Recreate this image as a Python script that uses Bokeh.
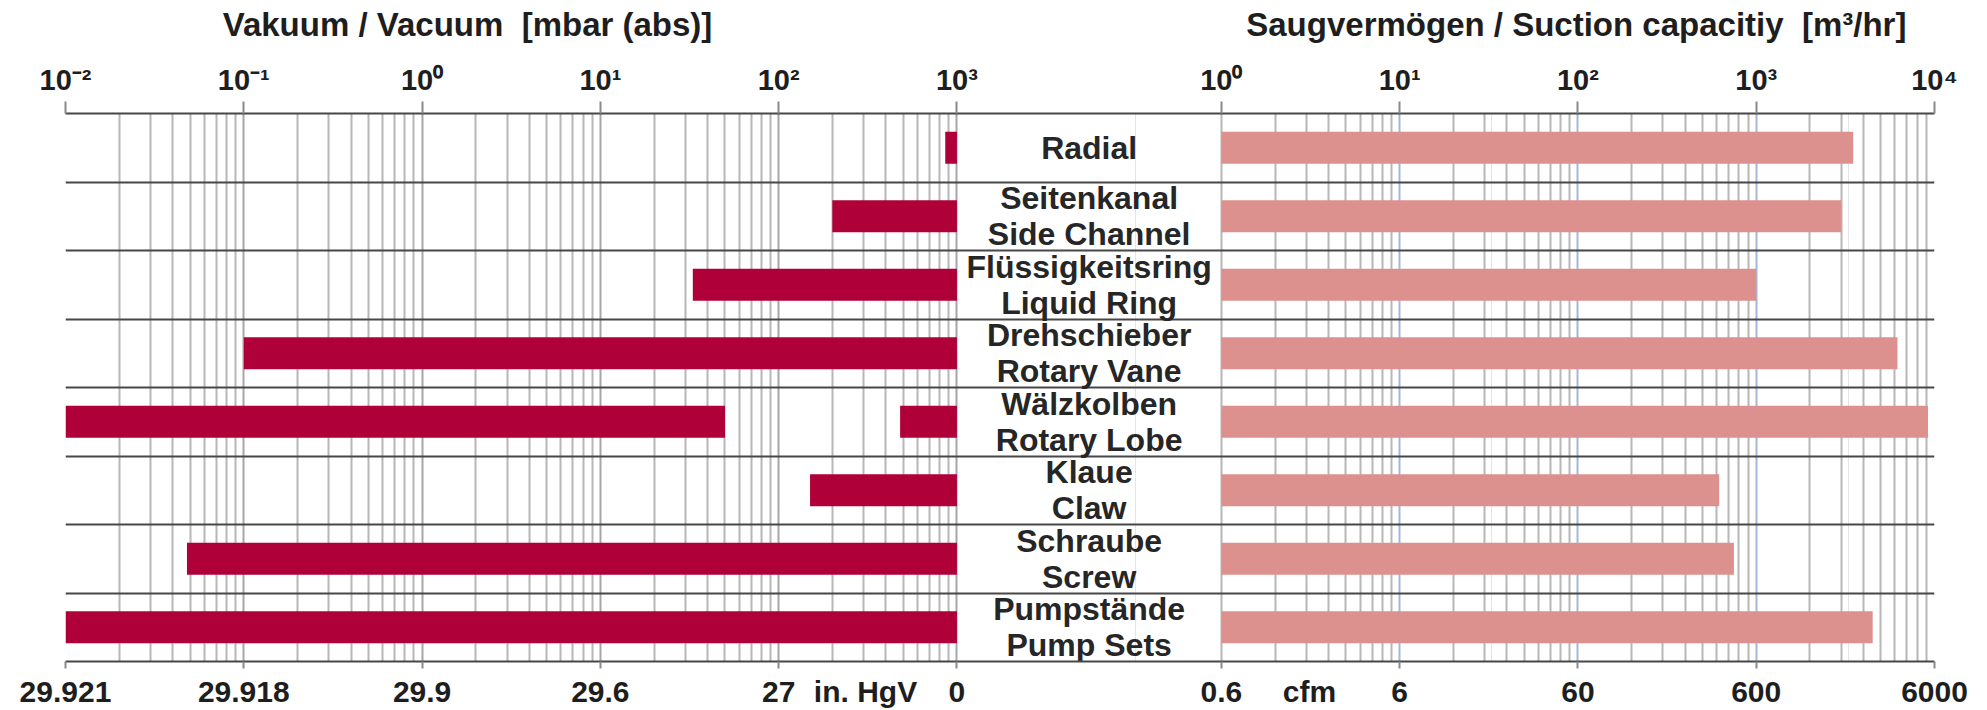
import numpy as np
from bokeh.plotting import figure
from bokeh.models import (Range1d, LogScale, LinearAxis, FixedTicker, CustomJSTickFormatter,
                          Grid, ColumnDataSource)
from bokeh.embed import file_html
from bokeh.resources import INLINE
from bokeh.core.properties import value

# ---------------- data ----------------
pumps_de = ["Radial", "Seitenkanal", "Flüssigkeitsring", "Drehschieber",
            "Wälzkolben", "Klaue", "Schraube", "Pumpstände"]
pumps_en = ["", "Side Channel", "Liquid Ring", "Rotary Vane",
            "Rotary Lobe", "Claw", "Screw", "Pump Sets"]

# vacuum ranges [mbar abs] (one row may have several segments)
vac_pump = [0, 1, 2, 3, 4, 4, 5, 6, 7]
vac_low_mbar = [860, 200, 33, 0.1, 0.01, 480, 150, 0.048, 0.01]
vac_high_mbar = [1000, 1000, 1000, 1000, 50, 1000, 1000, 1000, 1000]

# suction capacity [m3/hr]
cap_min_m3h = [1, 1, 1, 1, 1, 1, 1, 1]
cap_max_m3h = [3500, 3000, 1000, 6200, 9200, 620, 750, 4500]

vac_ticks = [0.01, 0.1, 1, 10, 100, 1000]
vac_top_labels = ["10⁻²", "10⁻¹", "10⁰", "10¹", "10²", "10³"]
vac_bottom_labels = ["29.921", "29.918", "29.9", "29.6", "27", "0"]
cap_ticks = [1, 10, 100, 1000, 10000]
cap_top_labels = ["10⁰", "10¹", "10²", "10³", "10⁴"]
cap_bottom_labels = ["0.6", "6", "60", "600", "6000"]

title_vac = "Vakuum / Vacuum\u00a0 [mbar (abs)]"
title_cap = "Saugvermögen / Suction capacitiy\u00a0 [m³/hr]"
unit_vac = "in. HgV"
unit_cap = "cfm"

# ---------------- layout ----------------
FONT = "Liberation Sans"
VAC_SPAN = float(np.log10(vac_ticks[-1] / vac_ticks[0]))   # 5 decades
CAP_SPAN = float(np.log10(cap_ticks[-1] / cap_ticks[0]))   # 4 decades
GAP = 1.483                                                # label column width, in decades
TOTAL = VAC_SPAN + GAP + CAP_SPAN
N = len(pumps_de)

BL, BR = 65, 45
FRAME_W, FRAME_H = 1869, 548
BT, BB = 113, 49

p = figure(width=BL + FRAME_W + BR, height=BT + FRAME_H + BB, output_backend="svg",
           toolbar_location=None, x_range=Range1d(0, TOTAL), y_range=Range1d(0, N),
           x_axis_location=None, y_axis_location=None,
           min_border_left=BL, min_border_right=BR, min_border_top=BT, min_border_bottom=BB)
p.outline_line_color = None
p.extra_x_ranges = {
    "vac": Range1d(vac_ticks[0], vac_ticks[0] * 10 ** TOTAL),
    "cap": Range1d(cap_ticks[0] * 10 ** (-(VAC_SPAN + GAP)), cap_ticks[-1]),
}
p.extra_x_scales = {"vac": LogScale(), "cap": LogScale()}

# vertical grid lines (decades + 2..9 subdivisions) and row separators
vac_minor = [m * 10.0 ** e for e in range(-2, 3) for m in range(2, 10)]
cap_minor = [m * 10.0 ** e for e in range(0, 4) for m in range(2, 10)] + [cap_ticks[0], cap_ticks[-1]]
p.add_layout(Grid(dimension=0, x_range_name="vac",
                  ticker=FixedTicker(ticks=vac_ticks, minor_ticks=vac_minor),
                  grid_line_color="#a6a6a6", grid_line_width=2,
                  minor_grid_line_color="#b7b7b7", minor_grid_line_width=2))
p.add_layout(Grid(dimension=0, x_range_name="cap",
                  ticker=FixedTicker(ticks=cap_ticks[1:-1], minor_ticks=cap_minor),
                  grid_line_color="#a3b8d8", grid_line_width=2,
                  minor_grid_line_color="#b7b7b7", minor_grid_line_width=2))
p.add_layout(Grid(dimension=1, ticker=FixedTicker(ticks=list(range(1, N))),
                  grid_line_color="#474747", grid_line_width=2))

# bars
row_y = [N - i - 0.5 for i in range(N)]
vac_src = ColumnDataSource(dict(y=[row_y[i] for i in vac_pump], left=vac_low_mbar, right=vac_high_mbar))
p.hbar(y="y", left="left", right="right", height=0.47, source=vac_src, x_range_name="vac",
       fill_color="#B0003A", line_color=None)
cap_src = ColumnDataSource(dict(y=row_y, left=cap_min_m3h, right=cap_max_m3h))
p.hbar(y="y", left="left", right="right", height=0.47, source=cap_src, x_range_name="cap",
       fill_color="#DC918E", line_color=None)

# row labels in the centre column
labels = [d if not e else d + "\n" + e for d, e in zip(pumps_de, pumps_en)]
lab_src = ColumnDataSource(dict(x=[VAC_SPAN + GAP / 2] * N, y=row_y, t=labels))
p.text(x="x", y="y", text="t", source=lab_src, text_align="center", text_baseline="middle",
       text_font=value(FONT), text_font_style="bold", text_font_size="32px",
       text_line_height=1.0, text_color="#262626")

# axes: decade ticks of both log scales on one shared axis per side
vac_pos = [float(np.log10(t / vac_ticks[0])) for t in vac_ticks]
cap_pos = [float(VAC_SPAN + GAP + np.log10(t / cap_ticks[0])) for t in cap_ticks]
all_pos = vac_pos + cap_pos

fmt_code = """
let best = 0, bd = 1e9;
for (let i = 0; i < pos.length; i++) { const d = Math.abs(pos[i] - tick); if (d < bd) { bd = d; best = i; } }
return labels[best];
"""


def make_axis(pos, lbls, tick_out, standoff, size, line=True):
    ax = LinearAxis(ticker=FixedTicker(ticks=pos),
                    formatter=CustomJSTickFormatter(args=dict(pos=pos, labels=lbls), code=fmt_code))
    ax.axis_line_color = "#474747" if line else None
    ax.axis_line_width = 2
    ax.major_tick_line_color = "#8a8a8a" if tick_out else None
    ax.major_tick_line_width = 2
    ax.major_tick_out = tick_out
    ax.major_tick_in = 0
    ax.minor_tick_line_color = None
    ax.major_label_standoff = standoff
    ax.major_label_text_font = FONT
    ax.major_label_text_font_style = "bold"
    ax.major_label_text_font_size = size
    ax.major_label_text_color = "#1e1e1e"
    return ax


# top: decade exponents, then the two scale titles above them
p.add_layout(make_axis(all_pos, vac_top_labels + cap_top_labels, 12, 6, "29px"), "above")
title_pos = [2.255, 8.474]
p.add_layout(make_axis(title_pos, [title_vac, title_cap], 0, 18, "33px", line=False), "above")

# bottom: decade tick marks, then the in. HgV / cfm equivalents with their unit names
p.add_layout(make_axis(all_pos, [""] * len(all_pos), 7, 0, "0px"), "below")
unit_pos = [4.487, 6.977]
p.add_layout(make_axis(all_pos + unit_pos,
                       vac_bottom_labels + cap_bottom_labels + [unit_vac, unit_cap],
                       0, 6, "30px", line=False), "below")

open("out.html", "w").write(file_html(p, INLINE))
